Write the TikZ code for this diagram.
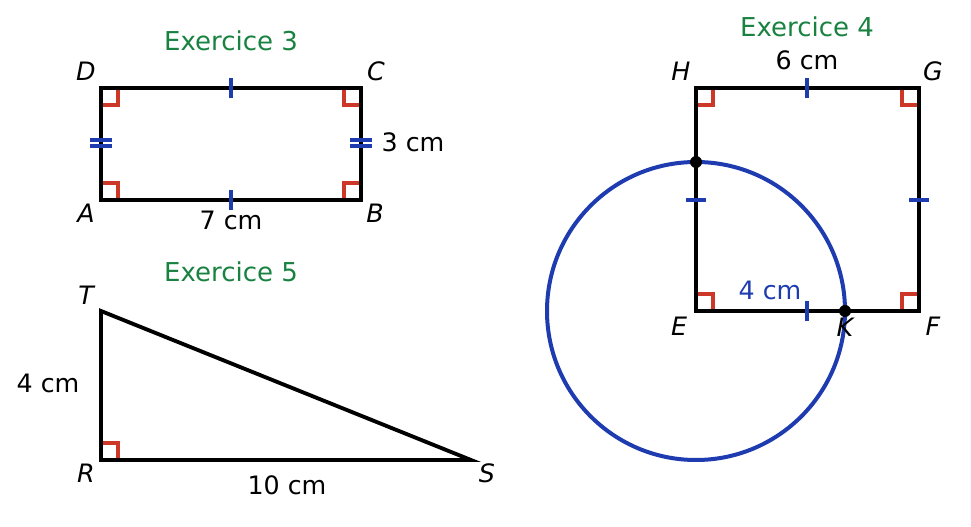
\documentclass[tikz,border=0pt]{standalone}
\usepackage{fontspec}
\setmainfont{DejaVu Sans}
\begin{document}
\definecolor{gr}{RGB}{25,130,65}
\definecolor{bl}{RGB}{30,60,175}
\definecolor{rd}{RGB}{205,55,40}
\begin{tikzpicture}[x=0.75pt,y=-0.75pt,
 seg/.style={line width=2.9pt,black},
 tk/.style={bl,line width=2.6pt},
 ra/.style={rd,line width=2.4pt},
 ttl/.style={gr,font=\fontsize{19.5}{22}\selectfont},
 lb/.style={font=\fontsize{19}{22}\selectfont},
 pt/.style={font=\fontsize{19}{22}\selectfont\itshape}]
\useasboundingbox (0,0) rectangle (971,527);
% Exercice 3
\coordinate (A) at (101,200);\coordinate (B) at (361,200);
\coordinate (C) at (361,88);\coordinate (D) at (101,88);
\draw[ra] (118,200)--(118,183)--(101,183);
\draw[ra] (344,200)--(344,183)--(361,183);
\draw[ra] (344,88)--(344,105)--(361,105);
\draw[ra] (118,88)--(118,105)--(101,105);
\draw[seg] (A)--(B)--(C)--(D)--cycle;
\draw[tk] (231,78)--(231,98) (231,190)--(231,210);
\draw[tk] (90,140)--(112,140) (90,146)--(112,146);
\draw[tk] (350,140)--(372,140) (350,146)--(372,146);
\node[ttl] (t3) at (231,41) {Exercice 3};
\node[pt] (lD) at (86,71) {D};\node[pt] (lC) at (376,71) {C};
\node[pt] (lA) at (86,213) {A};\node[pt] (lB) at (375,213) {B};
\node[lb] (l7) at (231,220) {7 cm};\node[lb] (l3) at (413,142) {3 cm};
% Exercice 5
\coordinate (T) at (101,311);\coordinate (R) at (101,460);\coordinate (S) at (471,460);
\draw[ra] (118,460)--(118,443)--(101,443);
\draw[seg] (T)--(R)--(S)--cycle;
\node[ttl] (t5) at (231,272) {Exercice 5};
\node[pt] (lT) at (86,295) {T};\node[pt] (lR) at (86,473) {R};\node[pt] (lS) at (487,473) {S};
\node[lb] (l4) at (48,383) {4 cm};\node[lb] (l10) at (287,485) {10 cm};
% Exercice 4
\coordinate (E) at (696,311);\coordinate (F) at (919,311);
\coordinate (G) at (919,88);\coordinate (H) at (696,88);
\coordinate (K) at (845,311);\coordinate (P) at (696,162);
\draw[ra] (713,311)--(713,294)--(696,294);
\draw[ra] (902,311)--(902,294)--(919,294);
\draw[ra] (902,88)--(902,105)--(919,105);
\draw[ra] (713,88)--(713,105)--(696,105);
\draw[seg] (E)--(F)--(G)--(H)--cycle;
\draw[tk] (807,78)--(807,98) (807,301)--(807,321) (686,200)--(706,200) (909,200)--(929,200);
\draw[bl,line width=3pt] (E) circle[radius=149];
\fill (K) circle[radius=6];\fill (P) circle[radius=6];
\node[ttl] (t4) at (807,27) {Exercice 4};
\node[lb] (l6) at (807,60) {6 cm};
\node[pt] (lH) at (681,71) {H};\node[pt] (lG) at (933,71) {G};
\node[pt] (lE) at (679,326) {E};\node[pt] (lF) at (933,326) {F};\node[pt] (lK) at (845,327) {K};
\node[lb,bl] (l4b) at (770,290) {4 cm};
\end{tikzpicture}
\end{document}
